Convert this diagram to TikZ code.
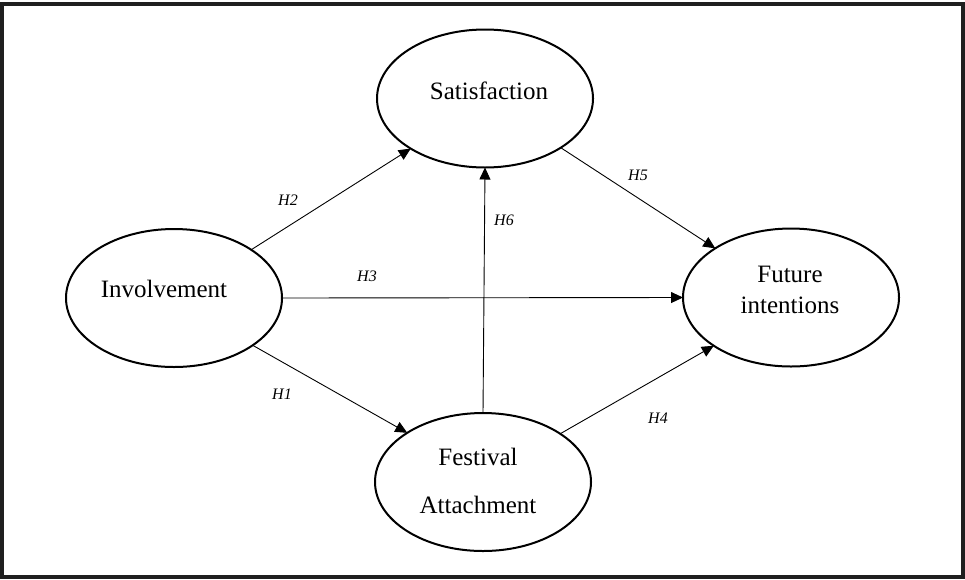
\documentclass[tikz,border=0pt]{standalone}
\usepackage{fontspec}
\setmainfont{Liberation Serif}
\usetikzlibrary{shapes.geometric,arrows.meta}
\begin{document}
\begin{tikzpicture}[x=1pt,y=-1pt,
  construct/.style={draw=black,line width=2pt,ellipse,minimum width=216pt,minimum height=138pt,inner sep=0pt,outer sep=0pt},
  ctext/.style={font=\fontsize{25}{30}\selectfont,inner sep=0pt,anchor=base},
  hyp/.style={font=\fontsize{16}{19}\selectfont\itshape,inner sep=0pt},
  path/.style={line width=0.9pt,-{Triangle[length=12pt,width=11pt]}}]
\useasboundingbox (0,0) rectangle (965,579);
\draw[line width=3.5pt,draw=black!88] (1.8,4) rectangle (963,577);

\node[construct] (sat) at (485,98.5) {};
\node[construct] (inv) at (174,298) {};
\node[construct] (fut) at (791,297.5) {};
\node[construct] (fest) at (483,482) {};

\node[ctext] (satT) at (489,99) {Satisfaction};
\node[ctext] (invT) at (164,297) {Involvement};
\node[ctext] (futT1) at (790,282) {Future};
\node[ctext] (futT2) at (790,313) {intentions};
\node[ctext] (festT1) at (478,465) {Festival};
\node[ctext] (festT2) at (478,513) {Attachment};

\draw[path] (inv.32.8) -- (sat.214.3);
\draw[path] (inv.0) -- (fut.180);
\draw[path] (inv.-31.8) -- (fest.147.4);
\draw[path] (fest.north) -- (sat.south);
\draw[path] (sat.-33) -- (fut.147.3);
\draw[path] (fest.32.8) -- (fut.212.7);

\node[hyp] (h2) at (288,200) {H2};
\node[hyp] (h3) at (367,276) {H3};
\node[hyp] (h6) at (504,220) {H6};
\node[hyp] (h5) at (638,175) {H5};
\node[hyp] (h1) at (282,394) {H1};
\node[hyp] (h4) at (658,418) {H4};
\end{tikzpicture}
\end{document}
